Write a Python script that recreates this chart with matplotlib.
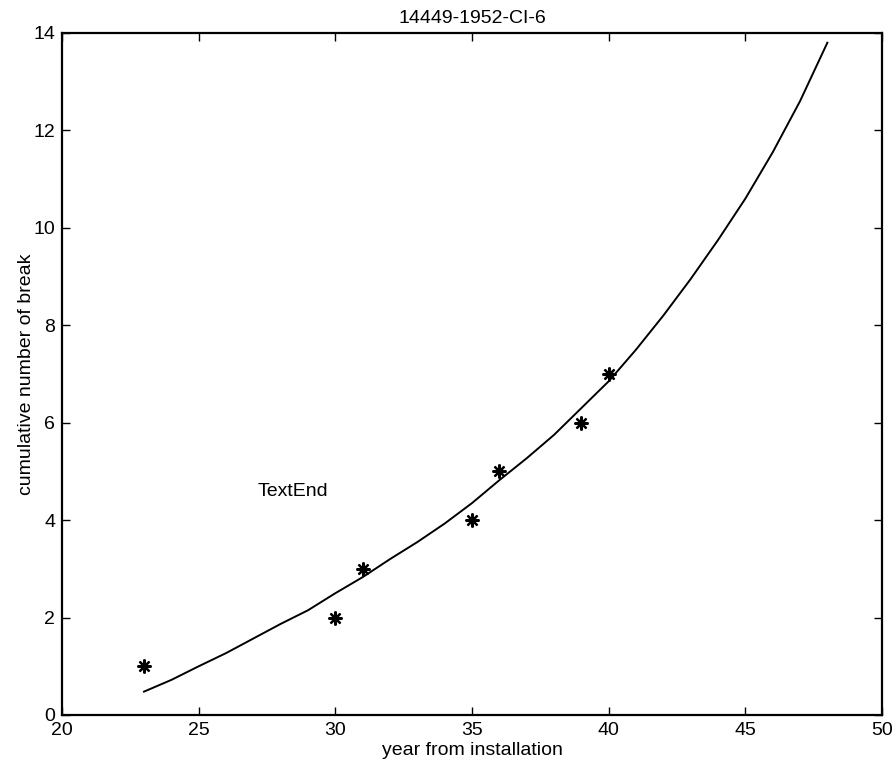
import matplotlib
matplotlib.use('Agg')
import matplotlib.pyplot as plt

plt.rcParams['font.family'] = ['Liberation Sans', 'DejaVu Sans']

# observed breaks
years_obs = [23, 30, 31, 35, 36, 39, 40]
breaks_obs = [1, 2, 3, 4, 5, 6, 7]

# fitted curve
years_fit = list(range(23, 49))
breaks_fit = [0.48, 0.72, 1.0, 1.27, 1.57, 1.87, 2.15, 2.5, 2.83, 3.2,
              3.55, 3.93, 4.35, 4.82, 5.27, 5.75, 6.3, 6.85, 7.5, 8.2,
              8.95, 9.75, 10.6, 11.55, 12.6, 13.8]

fs = 14

fig = plt.figure(figsize=(8.96, 7.67), dpi=100)
ax = fig.add_axes([0.0692, 0.0678, 0.9152, 0.8892])

ax.plot(years_obs, breaks_obs, linestyle='none', marker=(8, 2, 0),
        markersize=10, markeredgewidth=1.6, color='black')
ax.plot(years_fit, breaks_fit, color='black', linewidth=1.4)

ax.text(27.15, 4.58, 'TextEnd', fontsize=fs, ha='left', va='center')

ax.set_xlim(20, 50)
ax.set_ylim(0, 14)
ax.set_xticks([20, 25, 30, 35, 40, 45, 50])
ax.set_yticks([0, 2, 4, 6, 8, 10, 12, 14])
ax.tick_params(direction='in', top=True, right=True, length=6, width=1,
               labelsize=fs)
ax.tick_params(axis='y', pad=5)
ax.tick_params(axis='x', pad=5)
for s in ax.spines.values():
    s.set_linewidth(1.6)

ax.set_title('14449-1952-CI-6', fontsize=fs, pad=7)
ax.set_xlabel('year from installation', fontsize=fs, labelpad=2)
ax.set_ylabel('cumulative number of break', fontsize=fs, labelpad=-1)

fig.savefig('out.png', dpi=100)
